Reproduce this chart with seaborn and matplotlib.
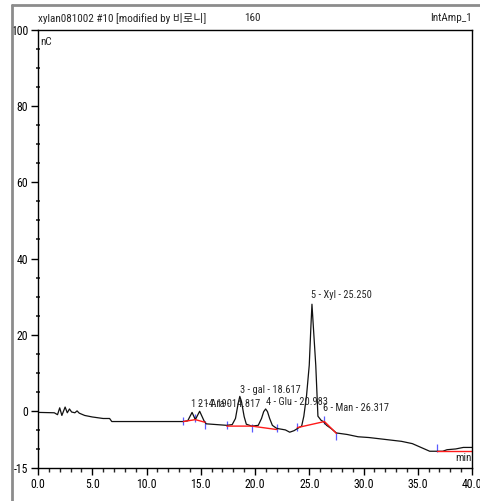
import matplotlib
matplotlib.use("Agg")
import matplotlib.pyplot as plt
import matplotlib.font_manager as fm
from matplotlib.lines import Line2D
from matplotlib.ticker import MultipleLocator, FixedLocator
import seaborn as sns
import pandas as pd

# ---------------- data ----------------
trace_time = [0.0, 1.5, 1.8, 2.0, 2.2, 2.5, 2.7, 2.9, 3.1, 3.4, 3.6, 3.8, 4.3, 5.0, 5.5, 6.0,
              6.6, 6.8, 13.4, 13.8, 14.2, 14.5, 14.9, 15.3, 15.5, 17.4, 17.9, 18.2, 18.45,
              18.6, 18.75, 19.0, 19.2, 19.7, 20.3, 20.6, 20.8, 20.98, 21.15, 21.35, 21.6,
              22.0, 22.8, 23.2, 23.6, 24.1, 24.3, 24.5, 24.75, 25.0, 25.15, 25.25, 25.38,
              25.6, 25.8, 26.1, 26.3, 26.6, 27.0, 27.5, 28.5, 29.5, 30.5, 32.0, 33.5, 34.5,
              35.3, 36.1, 37.3, 37.7, 38.5, 39.2, 40.0]
trace_value = [-0.4, -0.5, -1.0, 0.8, -1.2, 1.0, -0.5, 0.5, -0.3, -0.5, 0.0, -0.6, -1.2, -1.6,
               -1.8, -2.0, -2.0, -2.8, -2.8, -2.6, -0.4, -2.3, -0.1, -2.6, -3.4, -3.8, -3.6,
               -2.0, 2.0, 3.8, 2.5, -1.5, -3.5, -4.0, -3.8, -2.0, -0.2, 0.5, -0.2, -2.0,
               -3.8, -4.6, -5.0, -5.6, -5.2, -4.3, -4.0, -1.4, 4.0, 12.0, 22.0, 28.0, 22.0,
               12.0, -1.4, -2.5, -2.8, -3.8, -4.6, -5.8, -6.2, -6.8, -7.0, -7.5, -8.0, -8.6,
               -9.6, -10.6, -10.6, -10.2, -10.0, -9.6, -9.6]

# integration baselines (red)
base_groups = ["a", "a", "a", "b", "b", "b", "c", "c", "c", "d", "d"]
base_time = [13.4, 14.5, 15.4, 17.4, 19.7, 22.0, 23.9, 26.4, 27.5, 36.8, 40.0]
base_value = [-2.8, -2.3, -3.0, -4.0, -4.0, -4.9, -4.4, -2.8, -5.9, -10.6, -10.6]

# peak delimiters (blue)
delim_time = [13.4, 14.5, 15.4, 17.4, 19.7, 22.0, 23.9, 26.4, 27.5, 36.8]
delim_value = [-2.6, -2.0, -3.8, -3.6, -4.4, -4.6, -4.2, -2.4, -6.6, -9.8]

# peak labels
peak_labels = ["1 - 14.190", "2 - Ara - 14.817", "3 - gal - 18.617", "4 - Glu - 20.983",
               "5 - Xyl - 25.250", "6 - Man - 26.317"]
label_time = [14.1, 14.75, 18.6, 20.98, 25.2, 26.3]
label_value = [0.6, 0.6, 4.2, 0.9, 29.0, -0.6]

title_left = "xylan081002 #10 [modified by 비로니]"
title_mid = "160"
title_right = "IntAmp_1"
y_unit = "nC"
x_unit = "min"
x_major = [0, 5, 10, 15, 20, 25, 30, 35, 40]
x_labels = ["0.0", "5.0", "10.0", "15.0", "20.0", "25.0", "30.0", "35.0", "40.0"]
y_major = [-15, 0, 20, 40, 60, 80, 100]
y_labels = ["-15", "0", "20", "40", "60", "80", "100"]

# ---------------- style ----------------
sns.set_style("ticks")
narrow = None
for fam in ["Liberation Sans Narrow", "Roboto Condensed", "DejaVu Sans Condensed", "Liberation Sans"]:
    try:
        fm.findfont(fm.FontProperties(family=fam), fallback_to_default=False)
        narrow = fam
        break
    except Exception:
        continue
plt.rcParams["font.family"] = [narrow, "Noto Sans CJK KR", "DejaVu Sans"]
plt.rcParams["axes.unicode_minus"] = False

fig = plt.figure(figsize=(4.8, 5.01), dpi=100)
ax = fig.add_axes([38 / 480, 1 - 468 / 501, (472 - 38) / 480, (468 - 30) / 501])

trace = pd.DataFrame({"t": trace_time, "v": trace_value})
sns.lineplot(data=trace, x="t", y="v", ax=ax, color="#111111", lw=0.9, sort=False,
             estimator=None)

base = pd.DataFrame({"g": base_groups, "t": base_time, "v": base_value})
sns.lineplot(data=base, x="t", y="v", units="g", estimator=None, sort=False, ax=ax,
             color="#ff1a1a", lw=1.0, legend=False)

delim = pd.DataFrame({"t": delim_time, "v": delim_value})
sns.scatterplot(data=delim, x="t", y="v", ax=ax, marker="|", s=40, color="#5a5aff",
                linewidth=0.9, legend=False)

for lab, t, v in zip(peak_labels, label_time, label_value):
    ax.text(t, v, lab, fontsize=7.5, ha="left", va="bottom")

ax.set_xlim(0, 40)
ax.set_ylim(-15, 100)
ax.set_xlabel("")
ax.set_ylabel("")
ax.xaxis.set_major_locator(FixedLocator(x_major))
ax.set_xticklabels(x_labels)
ax.xaxis.set_minor_locator(MultipleLocator(1))
ax.yaxis.set_major_locator(FixedLocator(y_major))
ax.set_yticklabels(y_labels)
ax.yaxis.set_minor_locator(MultipleLocator(5))
ax.tick_params(axis="both", which="major", direction="out", length=5, width=1,
               labelsize=8.5, pad=2, colors="black")
ax.tick_params(axis="x", which="minor", direction="out", length=3, width=1)
ax.tick_params(axis="y", which="minor", direction="inout", length=3, width=1.2)
for sp in ax.spines.values():
    sp.set_linewidth(1.0)
    sp.set_color("black")
    sp.set_visible(True)

ax.text(0.006, 0.985, y_unit, transform=ax.transAxes, fontsize=8, ha="left", va="top")
ax.text(0.998, 0.012, x_unit, transform=ax.transAxes, fontsize=8, ha="right", va="bottom")

fig.text(38 / 480, 1 - 18 / 501, title_left, fontsize=8, ha="left", va="center")
fig.text(252 / 480, 1 - 18 / 501, title_mid, fontsize=8, ha="center", va="center")
fig.text(472 / 480, 1 - 18 / 501, title_right, fontsize=8, ha="right", va="center")

# outer window frame
fig.add_artist(Line2D([12 / 480, 1.0], [1 - 5 / 501, 1 - 5 / 501], transform=fig.transFigure,
                      color="#8c8c8c", lw=2))
fig.add_artist(Line2D([12 / 480, 12 / 480], [0, 1 - 5 / 501], transform=fig.transFigure,
                      color="#8c8c8c", lw=2))

fig.savefig("out.png", dpi=100)
